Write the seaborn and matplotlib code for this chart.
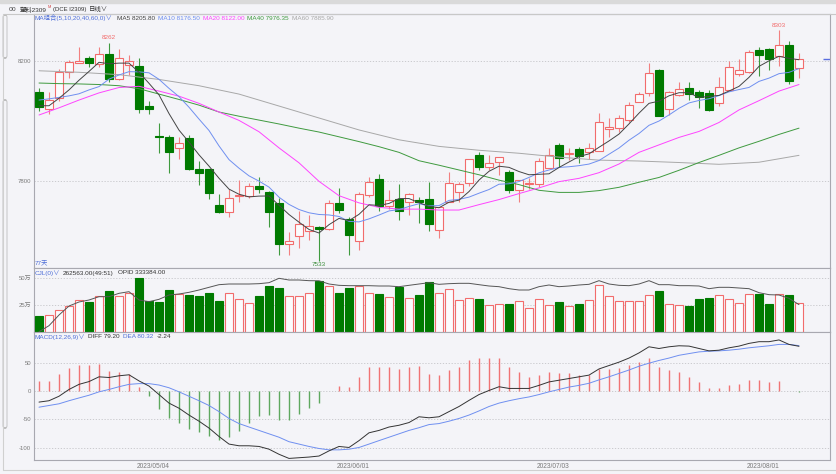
import matplotlib
matplotlib.use("Agg")
import matplotlib.pyplot as plt
import matplotlib.transforms as mtransforms
from matplotlib.patches import FancyBboxPatch, Rectangle
from matplotlib.lines import Line2D
import seaborn as sns
import numpy as np
import pandas as pd

# ------------------------------------------------------------- #
#                  DATOS                   #
# ------------------------------------------------------------- #

# Velas diarias (77 días)
opens = [8097, 8039, 8076, 8165, 8195, 8210, 8190, 8223, 8140, 8188,
         8185, 8050, 7949, 7948, 7908, 7942, 7839, 7838, 7719, 7694,
         7748, 7750, 7783, 7761, 7727, 7588, 7616, 7633, 7644, 7638,
         7726, 7671, 7598, 7752, 7806, 7716, 7738, 7730, 7735, 7739,
         7635, 7730, 7761, 7791, 7886, 7847, 7864, 7828, 7769, 7790,
         7788, 7844, 7920, 7888, 7905, 7897, 7901, 7972, 7975, 8003,
         8065, 8093, 8171, 8039, 8087, 8112, 8098, 8095, 8059, 8104,
         8158, 8163, 8236, 8240, 8218, 8255, 8177]
highs = [8110, 8098, 8173, 8204, 8246, 8216, 8246, 8262, 8240, 8222,
         8210, 8067, 7992, 7953, 7948, 7953, 7866, 7840, 7755, 7771,
         7802, 7791, 7813, 7765, 7741, 7629, 7698, 7687, 7648, 7735,
         7777, 7679, 7763, 7813, 7822, 7769, 7788, 7758, 7745, 7795,
         7713, 7830, 7797, 7872, 7897, 7886, 7880, 7835, 7804, 7808,
         7875, 7908, 7925, 7908, 7913, 7925, 8026, 8009, 8020, 8065,
         8098, 8193, 8174, 8101, 8132, 8132, 8104, 8104, 8146, 8201,
         8207, 8238, 8247, 8244, 8303, 8269, 8227]
lows = [8035, 8022, 8067, 8143, 8193, 8182, 8182, 8132, 8137, 8154,
        8028, 8022, 7894, 7827, 7872, 7836, 7786, 7739, 7691, 7679,
        7730, 7741, 7758, 7644, 7553, 7551, 7576, 7601, 7533, 7636,
        7691, 7551, 7568, 7746, 7700, 7707, 7668, 7685, 7657, 7633,
        7607, 7728, 7730, 7783, 7836, 7836, 7819, 7760, 7730, 7774,
        7780, 7842, 7847, 7869, 7858, 7872, 7898, 7948, 7962, 7998,
        8062, 8084, 8016, 8020, 8082, 8070, 8042, 8034, 8050, 8102,
        8149, 8160, 8149, 8171, 8184, 8124, 8143]
closes = [8046, 8070, 8165, 8199, 8202, 8193, 8223, 8140, 8210, 8202,
          8039, 8039, 7947, 7897, 7925, 7838, 7827, 7758, 7694, 7743,
          7752, 7783, 7771, 7696, 7588, 7597, 7655, 7649, 7637, 7727,
          7702, 7618, 7754, 7797, 7716, 7735, 7700, 7754, 7728, 7655,
          7711, 7793, 7788, 7872, 7847, 7858, 7878, 7769, 7802, 7793,
          7866, 7886, 7875, 7894, 7884, 7911, 7996, 7981, 8009, 8054,
          8091, 8160, 8018, 8098, 8106, 8091, 8079, 8037, 8115, 8179,
          8169, 8230, 8221, 8207, 8255, 8135, 8207]

# Medias móviles: primeros puntos de MA5/MA10 (sin historia previa)
ma5_head = [8051, 8051, 8076, 8104]
ma10_head = [8070, 8074, 8079, 8084, 8091, 8104, 8115, 8140, 8154]
# MA20 / MA40 cada 2 días, MA60 cada 4 días
ma20_pts = [8020, 8044, 8070, 8094, 8112, 8116, 8100, 8083, 8059, 8030,
            8002, 7964, 7910, 7860, 7798, 7750, 7726, 7711, 7705, 7705,
            7702, 7702, 7720, 7737, 7757, 7776, 7797, 7808, 7827, 7856,
            7895, 7920, 7945, 7965, 7995, 8037, 8068, 8100, 8122]
ma40_pts = [8127, 8125, 8124, 8122, 8118, 8108, 8090, 8072, 8053, 8030,
            8016, 8003, 7990, 7976, 7963, 7947, 7931, 7914, 7895, 7867,
            7852, 7836, 7820, 7802, 7787, 7768, 7761, 7761, 7767, 7778,
            7795, 7811, 7835, 7861, 7885, 7910, 7932, 7955, 7976]
ma60_pts = [8168, 8163, 8155, 8139, 8118, 8090, 8050, 8010, 7970, 7937,
            7915, 7902, 7892, 7879, 7869, 7866, 7861, 7855, 7862, 7885]
ma_last = [8205.80, 8176.50, 8122.00, 7976.35, 7885.90]

# Volumen (万) y posiciones abiertas
volume_wan = [14.4, 15.3, 19.9, 23.9, 29.1, 27.6, 32.8, 37.7, 33.1, 36.2,
              49.7, 28.2, 27.6, 39.0, 34.7, 33.7, 32.8, 35.9, 28.2, 36.2,
              30.7, 27.0, 33.1, 42.0, 40.5, 32.8, 32.8, 35.9, 46.6, 42.0,
              36.2, 40.5, 42.3, 35.9, 35.3, 31.9, 41.4, 31.6, 34.4, 46.0,
              36.2, 39.3, 29.8, 31.6, 30.7, 24.5, 25.5, 25.5, 28.5, 22.4,
              30.7, 24.5, 27.6, 23.6, 25.5, 29.8, 43.6, 32.8, 28.5, 28.2,
              28.2, 33.7, 37.4, 25.5, 24.5, 23.6, 30.7, 31.6, 33.7, 30.1,
              27.0, 34.7, 35.3, 26.1, 35.3, 33.7, 26.26]
open_interest = [265800, 280800, 307500, 330000, 340000, 345000, 353300, 353300, 361700, 365800,
                 345000, 340800, 346700, 357500, 360000, 364200, 370000, 376700, 383300, 385000,
                 385000, 385000, 385800, 388300, 399200, 395000, 395000, 393300, 393000, 385000,
                 381700, 380800, 380800, 380800, 380000, 380000, 378300, 381700, 385000, 388300,
                 384200, 385800, 386700, 386700, 383300, 380000, 378300, 373300, 370000, 370000,
                 378300, 382500, 378300, 380000, 382500, 384200, 393300, 385000, 381700, 380800,
                 385000, 393300, 383300, 383300, 380800, 380800, 380000, 373300, 376700, 376700,
                 375000, 373300, 363300, 358300, 357500, 349200, 333384]
cjl_last = "262563.00(49:51)"
opid_last = 333384.00

# MACD
macd_hist = [18.1, 18.1, 30.1, 41.0, 46.4, 46.4, 48.2, 34.9, 34.3, 30.1,
             7.2, -9.0, -31.3, -48.2, -55.4, -66.3, -72.3, -79.5, -85.5, -81.3,
             -71.1, -55.4, -44.0, -42.2, -51.2, -51.2, -40.4, -28.9, -21.1, 0.0,
             9.0, 7.2, 25.3, 42.2, 42.2, 43.4, 39.2, 43.4, 45.0, 30.1,
             28.9, 38.0, 43.4, 55.4, 58.4, 58.4, 58.4, 42.2, 34.3, 25.3,
             28.9, 33.1, 31.3, 31.3, 28.9, 28.9, 39.2, 39.2, 41.0, 46.4,
             51.2, 58.4, 42.2, 38.0, 34.3, 25.3, 16.9, 4.8, 4.8, 10.8,
             13.3, 19.3, 19.9, 16.3, 17.5, 0.6, -2.24]
diff = [-19.3, -16.9, -9.0, 3.0, 12.0, 16.9, 25.3, 24.1, 27.1, 28.9,
        18.1, 9.0, -6.0, -21.1, -30.1, -42.2, -53.0, -65.1, -80.0, -93.4,
        -96.4, -96.4, -97.6, -102.4, -111.4, -118.7, -117.5, -116.3, -114.5, -105.4,
        -97.6, -99.4, -87.3, -73.5, -69.3, -63.3, -60.2, -55.4, -45.2, -47.0,
        -45.2, -36.1, -27.1, -16.3, -6.0, 1.2, 7.8, 4.8, 4.8, 4.8,
        10.2, 16.3, 19.3, 22.3, 25.3, 28.3, 39.2, 45.2, 51.2, 58.4,
        67.5, 78.3, 75.3, 78.3, 80.1, 79.5, 75.3, 71.1, 72.3, 76.5,
        79.5, 84.3, 87.3, 87.3, 90.4, 82.5, 79.2]
dea = [-28.3, -25.3, -22.3, -16.9, -12.0, -7.2, -1.2, 3.0, 7.8, 12.0,
       13.3, 13.3, 10.8, 6.0, -1.2, -9.0, -16.9, -25.3, -36.1, -48.2,
       -57.2, -63.3, -69.3, -75.3, -81.3, -89.2, -93.4, -97.6, -101.2, -103.6,
       -103.6, -102.4, -99.4, -93.4, -87.3, -81.3, -75.3, -69.3, -64.5, -59.0,
       -57.2, -53.0, -48.2, -42.2, -34.9, -27.1, -21.1, -16.9, -13.3, -10.2,
       -6.0, -1.2, 3.0, 7.2, 10.2, 13.9, 19.9, 25.3, 31.3, 37.3,
       44.0, 49.4, 54.2, 58.4, 63.3, 66.3, 69.3, 70.5, 71.1, 72.3,
       74.1, 76.5, 78.3, 80.1, 82.5, 82.5, 80.32]

# Eje de fechas
tick_idx = [11, 31, 51, 72]
tick_labels = ["2023/05/04", "2023/06/01", "2023/07/03", "2023/08/01"]

# ------------------------------------------------------------- #
#                        ESTILO / COLORES                       #
# ------------------------------------------------------------- #
sns.set_style("white")
plt.rcParams['font.family'] = ['Liberation Sans', 'Noto Sans CJK SC', 'DejaVu Sans']
plt.rcParams['axes.unicode_minus'] = False

BG = "#f4f4f8"
RED = "#f26c6c"
RED_WICK = "#f28080"
GREEN = "#007a00"
GREEN_WICK = "#3f9a3f"
HOLLOW = "#fbfbfd"
SPINE = "#a8a8b0"
GRID = "#c4c4c8"
TICK = "#7a7a7a"
DARK = "#333333"
BLUE_T = "#4f6fd8"
C_MA5, C_MA10, C_MA20, C_MA40, C_MA60 = "#444444", "#6f8ff0", "#ff44ff", "#3f9a3f", "#a8a8a8"

W, H = 837, 474
fig = plt.figure(figsize=(W / 100, H / 100), dpi=100, facecolor=BG)


def rect(top, bottom):
    return [34 / W, 1 - bottom / H, 796 / W, (bottom - top) / H]


def ftext(x, y, s, color, size=4.6, **kw):
    fig.text(x / W, 1 - y / H, s, color=color, fontsize=size, va="center", ha="left", **kw)


ax_p = fig.add_axes(rect(14, 268))
ax_v = fig.add_axes(rect(268, 332), sharex=ax_p)
ax_m = fig.add_axes(rect(332, 460), sharex=ax_p)

idx = np.arange(len(closes))
o, h, l, c = (np.array(a, dtype=float) for a in (opens, highs, lows, closes))
up = c >= o

# ---------------------------------------- #
# 1. VELAS + MEDIAS MÓVILES                #
# ---------------------------------------- #
body_lo = np.minimum(o, c)
body_hi = np.maximum(o, c)
edge = np.where(up, RED, GREEN)
wick = np.where(up, RED_WICK, GREEN_WICK)
face = np.where(up, HOLLOW, GREEN)
ax_p.vlines(idx, l, body_lo, colors=wick, lw=0.8, zorder=2)
ax_p.vlines(idx, body_hi, h, colors=wick, lw=0.8, zorder=2)
ax_p.bar(idx, np.maximum(body_hi - body_lo, 0.6), bottom=body_lo, width=0.74,
         color=face, edgecolor=edge, linewidth=0.8, zorder=3)

# MA5 y MA10 a partir de los cierres
close_s = pd.Series(c)
ma5 = close_s.rolling(5).mean().to_numpy()
ma5[:len(ma5_head)] = ma5_head
ma10 = close_s.rolling(10).mean().to_numpy()
ma10[:len(ma10_head)] = ma10_head

sns.lineplot(x=idx[::4], y=ma60_pts, ax=ax_p, color=C_MA60, linewidth=0.7, legend=False, zorder=4)
sns.lineplot(x=idx[::2], y=ma40_pts, ax=ax_p, color=C_MA40, linewidth=0.7, legend=False, zorder=4)
sns.lineplot(x=idx[::2], y=ma20_pts, ax=ax_p, color=C_MA20, linewidth=0.7, legend=False, zorder=4)
sns.lineplot(x=idx, y=ma10, ax=ax_p, color=C_MA10, linewidth=0.7, legend=False, zorder=4)
sns.lineplot(x=idx, y=ma5, ax=ax_p, color=C_MA5, linewidth=0.7, legend=False, zorder=4)

# marcas de máximos / mínimo
i_max = int(np.argmax(h))
i_min = int(np.argmin(l))
i_max1 = int(np.argmax(h[:40]))
for i in (i_max, i_max1):
    ax_p.annotate(f"{int(h[i])}", xy=(i, h[i]), xytext=(0, 2), textcoords="offset points",
                  ha="center", va="bottom", fontsize=4.6, color=RED)
ax_p.annotate(f"{int(l[i_min])}", xy=(i_min, l[i_min]), xytext=(0, -1), textcoords="offset points",
              ha="center", va="top", fontsize=4.6, color="#3f8f3f")
ax_p.hlines(c[-1], 78.4, 79.1, color="#5a6ee0", lw=1.0, clip_on=False)

ax_p.set_ylim(7508, 8358)
ax_p.set_yticks([7800, 8200])
ax_p.set_yticklabels(["7800", "8200"])

# ---------------------------------------- #
# 2. VOLUMEN + POSICIONES ABIERTAS         #
# ---------------------------------------- #
vol = np.array(volume_wan) * 1e4
ax_v.bar(idx, vol, width=0.8, color=np.where(up, HOLLOW, GREEN),
         edgecolor=np.where(up, RED, GREEN), linewidth=0.8, zorder=3)
ax_v.set_ylim(0, 588000)
ax_v.set_yticks([250000, 500000])
ax_v.set_yticklabels(["25万", "50万"])

ax_oi = ax_v.twinx()
sns.lineplot(x=idx, y=open_interest, ax=ax_oi, color="#555555", linewidth=0.7, legend=False, zorder=4)
ax_oi.set_ylim(265000, 425000)
ax_oi.set_yticks([])
ax_oi.set_ylabel("")
for s in ax_oi.spines.values():
    s.set_visible(False)

# ---------------------------------------- #
# 3. MACD                                  #
# ---------------------------------------- #
hist = np.array(macd_hist)
ax_m.vlines(idx, 0, hist, colors=np.where(hist >= 0, "#f07474", "#5fa85f"), lw=1.0, zorder=2)
sns.lineplot(x=idx, y=dea, ax=ax_m, color="#6f8ff0", linewidth=0.7, legend=False, zorder=4)
sns.lineplot(x=idx, y=diff, ax=ax_m, color="#333333", linewidth=0.7, legend=False, zorder=4)
ax_m.set_ylim(-121.5, 104.4)
ax_m.set_yticks([-100, -50, 0, 50])
ax_m.set_yticklabels(["-100", "-50", "0", "50"])

# ---------------------------------------- #
# EJES COMUNES                             #
# ---------------------------------------- #
for ax in (ax_p, ax_v, ax_m):
    ax.set_facecolor(BG)
    ax.set_xlim(-0.5, 79.1)
    ax.set_ylabel("")
    ax.set_xlabel("")
    ax.yaxis.grid(True, color=GRID, linestyle=(0, (1.5, 2)), lw=0.6)
    ax.xaxis.grid(False)
    ax.set_axisbelow(True)
    ax.tick_params(axis="y", length=0, labelsize=4.3, labelcolor=TICK, pad=2)
    ax.tick_params(axis="x", length=0, labelbottom=False)
    for s in ax.spines.values():
        s.set_color(SPINE)
        s.set_linewidth(0.8)

ax_m.set_xticks(tick_idx)
ax_m.set_xticklabels(tick_labels)
ax_m.tick_params(axis="x", labelbottom=True, labelsize=4.8, labelcolor=TICK, pad=2)
offset = mtransforms.ScaledTranslation(4 / 100, 0, fig.dpi_scale_trans)
for lbl in ax_m.get_xticklabels():
    lbl.set_transform(lbl.get_transform() + offset)

# ---------------------------------------- #
# TEXTOS DE CABECERA Y LEYENDAS            #
# ---------------------------------------- #
fig.patches.append(Rectangle((0, 1 - 3 / H), 1, 3 / H, transform=fig.transFigure,
                             color="#dadada", zorder=0))
fig.lines.append(Line2D([3 / W, 1], [1 - 14 / H] * 2, transform=fig.transFigure, color="#c8c8c8", lw=0.8))
fig.lines.append(Line2D([3 / W, 3 / W], [1 - 14 / H, 1 - 470 / H], transform=fig.transFigure,
                        color="#d0d0d0", lw=0.8))
fig.lines.append(Line2D([3 / W, 1], [1 - 470 / H] * 2, transform=fig.transFigure, color="#d0d0d0", lw=0.8))
for top, bot in ((15, 58), (100, 428)):
    fig.patches.append(FancyBboxPatch((3 / W, 1 - bot / H), 4 / W, (bot - top) / H,
                                      boxstyle="round,pad=0,rounding_size=0.004",
                                      transform=fig.transFigure, facecolor="none",
                                      edgecolor="#bdbdbd", lw=0.6))

ftext(9, 9.5, "oo", "#555555", size=5)
ftext(20, 9.5, "塑料2309", DARK, size=4.6)
ftext(47.5, 7.5, "M", "#d04040", size=2.8)
ftext(53, 9.5, "(DCE I2309)", DARK, size=4.3)
ftext(89, 9.5, "日线∨", DARK, size=4.6)

ma_names = ["MA5", "MA10", "MA20", "MA40", "MA60"]
ma_colors = [C_MA5, C_MA10, C_MA20, C_MA40, C_MA60]
ma_x = [117, 158, 203, 247, 292]
ftext(35, 18, "MA组合(5,10,20,40,60,0)∨", BLUE_T)
for name, val, col, x in zip(ma_names, ma_last, ma_colors, ma_x):
    ftext(x, 18, f"{name} {val:.2f}", col)

ftext(35, 263, "77天", BLUE_T)

ftext(35, 273, "CJL(0)∨", BLUE_T)
ftext(63, 273, cjl_last, DARK)
ftext(118, 273, f"OPID {opid_last:.2f}", DARK)

ftext(35, 337, "MACD(12,26,9)∨", BLUE_T)
ftext(88, 337, f"DIFF {diff[-1]:.2f}", DARK)
ftext(123, 337, f"DEA {dea[-1]:.2f}", BLUE_T)
ftext(157, 337, f"{macd_hist[-1]:.2f}", DARK)

fig.savefig("out.png", dpi=100, facecolor=BG)
